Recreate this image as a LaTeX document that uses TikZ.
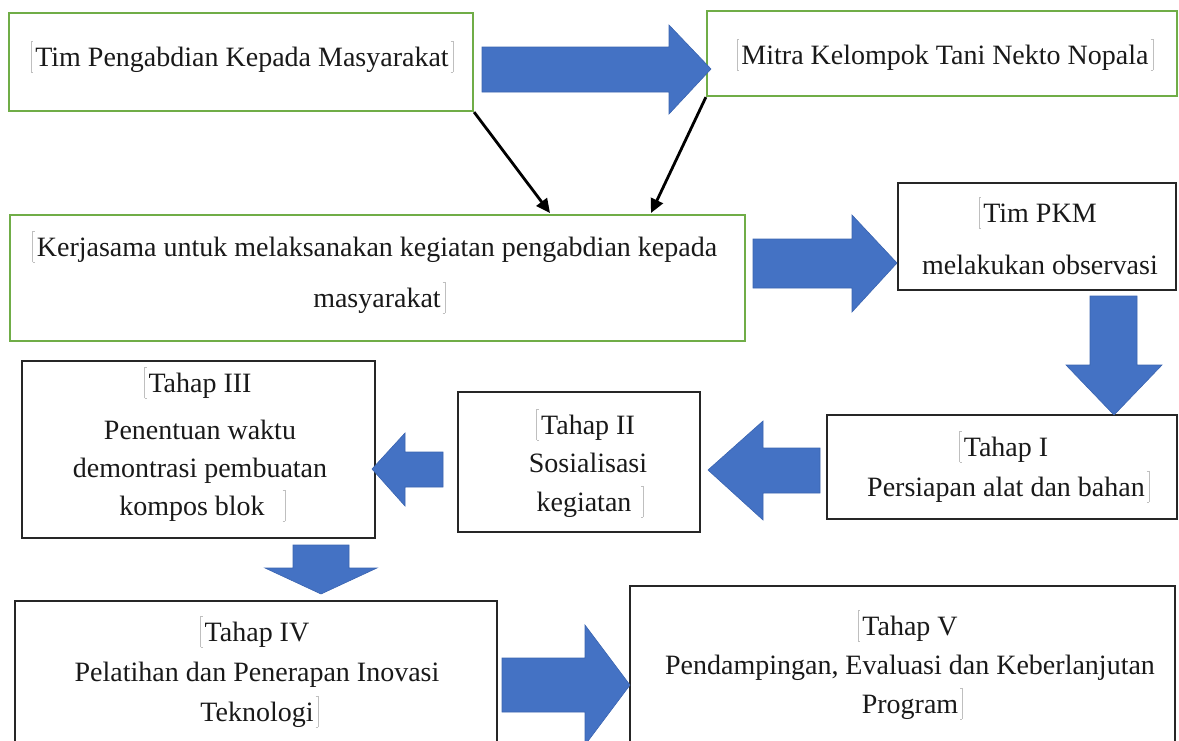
\documentclass[tikz,border=0pt]{standalone}
\usepackage{fontspec}
\setmainfont{Liberation Serif}
\usetikzlibrary{arrows.meta}
\definecolor{grn}{HTML}{70AD47}
\definecolor{blu}{HTML}{4472C4}
\definecolor{bluedge}{HTML}{3A64B0}
\newcommand{\lbrk}{\textcolor{black!25}{\rule[-0.22em]{0.7pt}{1.12em}\rule[-0.22em]{2pt}{0.5pt}\hspace{-2pt}\rule[0.88em]{2pt}{0.5pt}}}
\newcommand{\rbrk}{\textcolor{black!25}{\rule[-0.22em]{2pt}{0.5pt}\hspace{-2pt}\rule[0.88em]{2pt}{0.5pt}\rule[-0.22em]{0.7pt}{1.12em}}}
\newcommand{\lmk}{\llap{\lbrk\hspace{2pt}}}
\newcommand{\rmk}{\rlap{\hspace{2pt}\rbrk}}
\begin{document}
\begin{tikzpicture}[x=1pt,y=-1pt,
  gbox/.style={draw=grn, line width=2.2pt, inner sep=0pt},
  kbox/.style={draw=black!85, line width=1.8pt, inner sep=0pt},
  txt/.style={font=\fontsize{28}{39}\selectfont, align=center, inner sep=0pt, text=black!90, anchor=base},
  barrow/.style={fill=blu, draw=bluedge, line width=0.6pt, line join=miter},
  link/.style={line width=2.8pt, -{Triangle[length=14pt,width=13pt]}}]
\useasboundingbox (0,0) rectangle (1179,740);
\clip (0,0) rectangle (1179,740);

% boxes
\node[gbox, minimum width=464pt, minimum height=98pt] (b1) at (241,62) {};
\node[gbox, minimum width=470pt, minimum height=85pt] (b2) at (942,53.5) {};
\node[gbox, minimum width=735pt, minimum height=126pt] (b3) at (377.5,278) {};
\node[kbox, minimum width=278pt, minimum height=107pt] (b4) at (1037,236.5) {};
\node[kbox, minimum width=350pt, minimum height=104pt] (b5) at (1002,467) {};
\node[kbox, minimum width=242pt, minimum height=140pt] (b6) at (579,462) {};
\node[kbox, minimum width=353pt, minimum height=177pt] (b7) at (198.5,449.5) {};
\node[kbox, minimum width=482pt, minimum height=169pt] (b8) at (256,685.5) {};
\node[kbox, minimum width=545pt, minimum height=184pt] (b9) at (902.5,678) {};

% texts (anchor = baseline of the last line)
\node[txt] (t1) at (242,66) {\lmk Tim Pengabdian Kepada Masyarakat\rmk};
\node[txt] (t2) at (945,64) {\lmk Mitra Kelompok Tani Nekto Nopala\rmk};
\node[txt, font=\fontsize{28}{51}\selectfont] (t3) at (377,307) {\lmk Kerjasama untuk melaksanakan kegiatan pengabdian kepada\\ masyarakat\rmk};
\node[txt, font=\fontsize{28}{52}\selectfont] (t4) at (1040,274) {\lmk Tim PKM\\ melakukan observasi};
\node[txt, font=\fontsize{28}{40}\selectfont] (t5) at (1006,496) {\lmk Tahap I\\ Persiapan alat dan bahan\rmk};
\node[txt, font=\fontsize{28}{38.5}\selectfont] (t6) at (588,511) {\lmk Tahap II\\ Sosialisasi\\ kegiatan\hspace{8pt}\rmk};
\node[txt, font=\fontsize{28}{38}\selectfont] (t7) at (200,515) {\lmk Tahap III\\[9pt] Penentuan waktu\\ demontrasi pembuatan\\ kompos blok\hspace{16pt}\rmk};
\node[txt, font=\fontsize{28}{40}\selectfont] (t8) at (257,721) {\lmk Tahap IV\\ Pelatihan dan Penerapan Inovasi\\ Teknologi\rmk};
\node[txt, font=\fontsize{28}{39}\selectfont] (t9) at (910,713) {\lmk Tahap V\\ Pendampingan, Evaluasi dan Keberlanjutan\\ Program\rmk};

% block arrows
\path[barrow] (482,47) -- (669,47) -- (669,25) -- (711,69) -- (669,114) -- (669,92) -- (482,92) -- cycle;
\path[barrow] (753,239) -- (852,239) -- (852,215) -- (897,263) -- (852,312) -- (852,288) -- (753,288) -- cycle;
\path[barrow] (1090,296) -- (1137,296) -- (1137,365) -- (1162,365) -- (1114,415) -- (1066,365) -- (1090,365) -- cycle;
\path[barrow] (820,448) -- (763,448) -- (763,421) -- (708,470) -- (763,520) -- (763,493) -- (820,493) -- cycle;
\path[barrow] (443,452) -- (405,452) -- (405,433) -- (372,469) -- (405,506) -- (405,487) -- (443,487) -- cycle;
\path[barrow] (293,545) -- (349,545) -- (349,568) -- (377,568) -- (321,594) -- (265,568) -- (293,568) -- cycle;
\path[barrow] (502,658) -- (585,658) -- (585,625) -- (630,685) -- (585,745) -- (585,712) -- (502,712) -- cycle;

% thin connectors
\coordinate (e1) at (550,213);
\coordinate (e2) at (651,213);
\draw[link] (b1.south east) -- (e1);
\draw[link] (b2.south west) -- (e2);
\end{tikzpicture}
\end{document}
